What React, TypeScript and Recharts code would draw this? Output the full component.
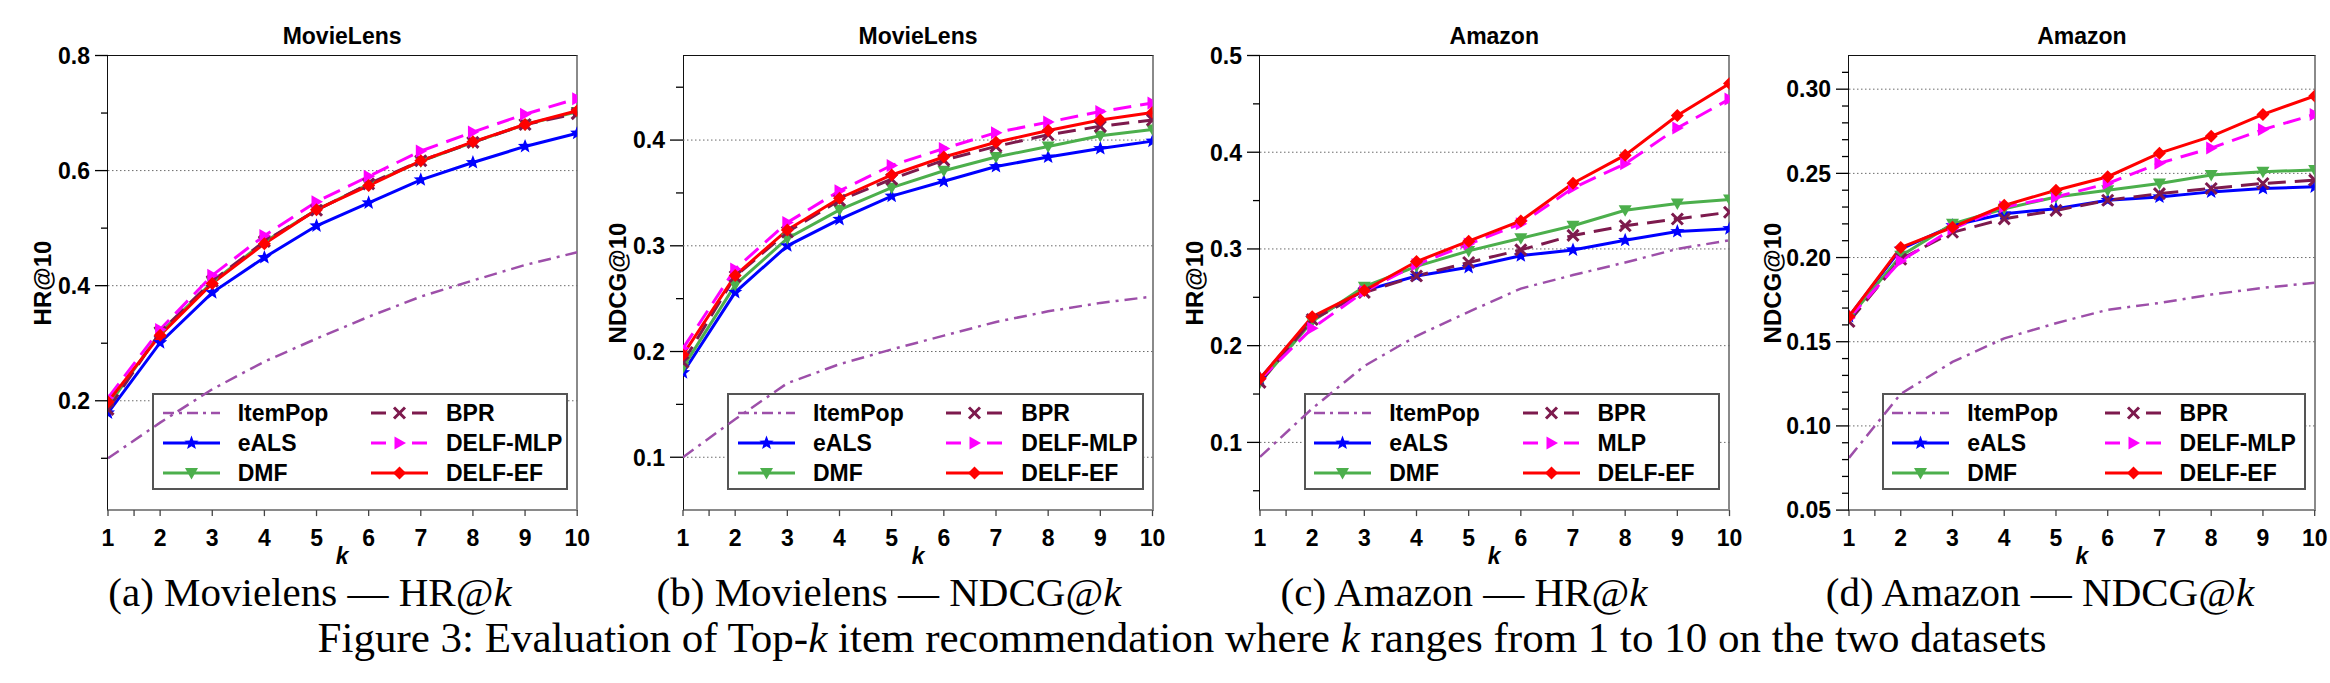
import React from "react";
import { Line, LineChart, ReferenceLine, XAxis, YAxis } from "recharts";

// ---- data ----
const kValues = [1, 2, 3, 4, 5, 6, 7, 8, 9, 10];
const xTicks = [1, 1.5, 2, 3, 4, 5, 6, 7, 8, 9, 10];

// (a) MovieLens HR@k
const mlHrItemPop = [0.1, 0.162, 0.22, 0.268, 0.308, 0.346, 0.381, 0.409, 0.436, 0.458];
const mlHrEals = [0.179, 0.301, 0.388, 0.449, 0.504, 0.544, 0.584, 0.614, 0.642, 0.665];
const mlHrDmf = [0.191, 0.318, 0.406, 0.476, 0.532, 0.576, 0.616, 0.649, 0.68, 0.702];
const mlHrBpr = [0.185, 0.319, 0.408, 0.477, 0.531, 0.577, 0.617, 0.649, 0.68, 0.699];
const mlHrMlp = [0.205, 0.324, 0.418, 0.487, 0.546, 0.59, 0.634, 0.667, 0.698, 0.725];
const mlHrEf = [0.198, 0.314, 0.404, 0.473, 0.532, 0.574, 0.617, 0.65, 0.68, 0.704];

// (b) MovieLens NDCG@k
const mlNdItemPop = [0.1, 0.136, 0.17, 0.188, 0.202, 0.215, 0.228, 0.238, 0.246, 0.252];
const mlNdEals = [0.18, 0.256, 0.3, 0.325, 0.347, 0.361, 0.375, 0.384, 0.392, 0.399];
const mlNdDmf = [0.185, 0.263, 0.307, 0.334, 0.355, 0.371, 0.384, 0.394, 0.404, 0.41];
const mlNdBpr = [0.19, 0.271, 0.313, 0.343, 0.363, 0.381, 0.394, 0.405, 0.413, 0.419];
const mlNdMlp = [0.203, 0.278, 0.322, 0.352, 0.376, 0.392, 0.407, 0.417, 0.427, 0.435];
const mlNdEf = [0.197, 0.272, 0.315, 0.345, 0.367, 0.384, 0.398, 0.409, 0.419, 0.426];

// (c) Amazon HR@k
const azHrItemPop = [0.085, 0.135, 0.179, 0.21, 0.235, 0.259, 0.273, 0.286, 0.3, 0.309];
const azHrEals = [0.166, 0.228, 0.257, 0.272, 0.281, 0.293, 0.299, 0.309, 0.318, 0.321];
const azHrDmf = [0.162, 0.225, 0.261, 0.282, 0.298, 0.311, 0.324, 0.34, 0.347, 0.351];
const azHrBpr = [0.162, 0.227, 0.255, 0.272, 0.286, 0.299, 0.314, 0.324, 0.331, 0.338];
const azHrMlp = [0.165, 0.218, 0.256, 0.284, 0.305, 0.326, 0.363, 0.388, 0.425, 0.455];
const azHrEf = [0.166, 0.23, 0.257, 0.287, 0.308, 0.329, 0.368, 0.397, 0.438, 0.471];

// (d) Amazon NDCG@k
const azNdItemPop = [0.081, 0.119, 0.138, 0.152, 0.161, 0.169, 0.173, 0.178, 0.182, 0.185];
const azNdEals = [0.165, 0.205, 0.219, 0.226, 0.229, 0.234, 0.236, 0.239, 0.241, 0.242];
const azNdDmf = [0.164, 0.201, 0.22, 0.229, 0.236, 0.24, 0.244, 0.249, 0.251, 0.252];
const azNdBpr = [0.162, 0.199, 0.215, 0.223, 0.228, 0.234, 0.238, 0.241, 0.244, 0.246];
const azNdMlp = [0.164, 0.198, 0.217, 0.23, 0.236, 0.244, 0.256, 0.265, 0.276, 0.285];
const azNdEf = [0.165, 0.206, 0.218, 0.231, 0.24, 0.248, 0.262, 0.272, 0.285, 0.296];

// ---- styling ----
const SANS = "'Liberation Sans', Arial, Helvetica, sans-serif";
const SERIF = "'Liberation Serif', 'Times New Roman', serif";

type Shape = "none" | "star" | "triDown" | "cross" | "triRight" | "diamond";

const seriesDefs: { key: string; name: string; color: string; dash?: string; legendDash?: string; width: number; shape: Shape }[] = [
  { key: "itemPop", name: "ItemPop", color: "#9d4fa9", dash: "13 6 3 6", legendDash: "11 5 3 5", width: 2.5, shape: "none" },
  { key: "eals", name: "eALS", color: "#0000ff", width: 3, shape: "star" },
  { key: "dmf", name: "DMF", color: "#4caf4c", width: 3, shape: "triDown" },
  { key: "bpr", name: "BPR", color: "#7d1a4d", dash: "18 9", legendDash: "15 26", width: 3, shape: "cross" },
  { key: "mlp", name: "DELF-MLP", color: "#ff00ff", dash: "18 9", legendDash: "15 26", width: 3, shape: "triRight" },
  { key: "ef", name: "DELF-EF", color: "#ff0000", width: 3, shape: "diamond" },
];

const PLOT_TOP = 55.5;
const PLOT_BOTTOM = 510.1;
const CHART_H = 570;
const Y_AXIS_W = 100;
const RIGHT_PAD = 20;

const panels = [
  {
    title: "MovieLens", yLabel: "HR@10", plotLeft: 107.5, plotWidth: 469.2,
    domain: [0.01, 0.8], major: [0.2, 0.4, 0.6, 0.8], minor: [0.1, 0.3, 0.5, 0.7], grid: [0.2, 0.4, 0.6],
    digits: 1, yLabelGap: 64.5, legendLeft: 44.5, legendWidth: 415.5, col2: 217, mlpName: "DELF-MLP",
    values: [mlHrItemPop, mlHrEals, mlHrDmf, mlHrBpr, mlHrMlp, mlHrEf],
  },
  {
    title: "MovieLens", yLabel: "NDCG@10", plotLeft: 683.3, plotWidth: 469.5,
    domain: [0.05, 0.48], major: [0.1, 0.2, 0.3, 0.4], minor: [0.15, 0.25, 0.35, 0.45], grid: [0.1, 0.2, 0.3, 0.4],
    digits: 1, yLabelGap: 65, legendLeft: 44, legendWidth: 416.4, col2: 217, mlpName: "DELF-MLP",
    values: [mlNdItemPop, mlNdEals, mlNdDmf, mlNdBpr, mlNdMlp, mlNdEf],
  },
  {
    title: "Amazon", yLabel: "HR@10", plotLeft: 1259.5, plotWidth: 469.5,
    domain: [0.03, 0.5], major: [0.1, 0.2, 0.3, 0.4, 0.5], minor: [0.05, 0.15, 0.25, 0.35, 0.45], grid: [0.1, 0.2, 0.3, 0.4],
    digits: 1, yLabelGap: 64.5, legendLeft: 44, legendWidth: 416.3, col2: 217, mlpName: "MLP",
    values: [azHrItemPop, azHrEals, azHrDmf, azHrBpr, azHrMlp, azHrEf],
  },
  {
    title: "Amazon", yLabel: "NDCG@10", plotLeft: 1849.1, plotWidth: 465.7,
    domain: [0.05, 0.32], major: [0.05, 0.1, 0.15, 0.2, 0.25, 0.3],
    minor: [0.06, 0.07, 0.08, 0.09, 0.11, 0.12, 0.13, 0.14, 0.16, 0.17, 0.18, 0.19, 0.21, 0.22, 0.23, 0.24, 0.26, 0.27, 0.28, 0.29, 0.31],
    grid: [0.1, 0.15, 0.2, 0.25, 0.3],
    digits: 2, yLabelGap: 76.5, legendLeft: 32.5, legendWidth: 424, col2: 221, mlpName: "DELF-MLP",
    values: [azNdItemPop, azNdEals, azNdDmf, azNdBpr, azNdMlp, azNdEf],
  },
];

const subCaptions = [
  { label: "(a) Movielens — HR@", center: 310 },
  { label: "(b) Movielens — NDCG@", center: 889 },
  { label: "(c) Amazon — HR@", center: 1464 },
  { label: "(d) Amazon — NDCG@", center: 2040 },
];

function Marker({ shape, cx, cy, color }: { shape: Shape; cx?: number; cy?: number; color: string }) {
  if (cx == null || cy == null || shape === "none") return null;
  if (shape === "star") {
    const pts: string[] = [];
    for (let i = 0; i < 10; i++) {
      const r = i % 2 === 0 ? 7.5 : 3.2;
      const a = -Math.PI / 2 + (i * Math.PI) / 5;
      pts.push(`${cx + r * Math.cos(a)},${cy + r * Math.sin(a)}`);
    }
    return <polygon points={pts.join(" ")} fill={color} />;
  }
  if (shape === "triDown") return <polygon points={`${cx - 6.5},${cy - 5} ${cx + 6.5},${cy - 5} ${cx},${cy + 6.5}`} fill={color} />;
  if (shape === "triRight") return <polygon points={`${cx - 5},${cy - 6.5} ${cx - 5},${cy + 6.5} ${cx + 6.5},${cy}`} fill={color} />;
  if (shape === "diamond") return <polygon points={`${cx},${cy - 6.5} ${cx + 6.5},${cy} ${cx},${cy + 6.5} ${cx - 6.5},${cy}`} fill={color} />;
  return (
    <g stroke={color} strokeWidth={3}>
      <line x1={cx - 5.5} y1={cy - 5.5} x2={cx + 5.5} y2={cy + 5.5} />
      <line x1={cx - 5.5} y1={cy + 5.5} x2={cx + 5.5} y2={cy - 5.5} />
    </g>
  );
}

function Panel({ p }: { p: (typeof panels)[number] }) {
  const data = kValues.map((k, i) => {
    const row: Record<string, number> = { k };
    seriesDefs.forEach((s, j) => (row[s.key] = p.values[j][i]));
    return row;
  });
  const chartLeft = p.plotLeft - Y_AXIS_W;
  const chartW = Y_AXIS_W + p.plotWidth + RIGHT_PAD;
  const xAxisH = CHART_H - 10 - PLOT_BOTTOM;
  const plotH = PLOT_BOTTOM - PLOT_TOP;
  const centerX = p.plotLeft + p.plotWidth / 2;
  const isMajor = (v: number) => p.major.some((m) => Math.abs(m - v) < 1e-6);

  const yTick = (props: any) => {
    const { x, y, payload } = props;
    const major = isMajor(payload.value);
    return (
      <g>
        <line x1={x - (major ? 13 : 7)} x2={x} y1={y} y2={y} stroke="#000" strokeWidth={1.3} />
        {major && (
          <text x={x - 18} y={y} dy="0.36em" textAnchor="end" fontFamily={SANS} fontWeight="bold" fontSize={23} fill="#000">
            {payload.value.toFixed(p.digits)}
          </text>
        )}
      </g>
    );
  };

  const xTick = (props: any) => {
    const { x, y, payload } = props;
    const whole = Number.isInteger(payload.value);
    return (
      <g>
        <line x1={x} x2={x} y1={y} y2={y + 6} stroke="#444" strokeWidth={1.3} />
        {whole && (
          <text x={x} y={y + 27.5} dy="0.36em" textAnchor="middle" fontFamily={SANS} fontWeight="bold" fontSize={23} fill="#000">
            {payload.value}
          </text>
        )}
      </g>
    );
  };

  const legendRows = [18.8, 48.6, 78.1];

  return (
    <>
      {/* title */}
      <div style={{ position: "absolute", left: p.plotLeft, width: p.plotWidth, top: 24.4, lineHeight: "24px", textAlign: "center", fontFamily: SANS, fontWeight: "bold", fontSize: 23 }}>
        {p.title}
      </div>
      {/* y label */}
      <div
        style={{
          position: "absolute", left: p.plotLeft - p.yLabelGap - 100, top: PLOT_TOP + plotH / 2 - 15, width: 200, height: 30,
          lineHeight: "30px", textAlign: "center", transform: "rotate(-90deg)", fontFamily: SANS, fontWeight: "bold", fontSize: 24,
        }}
      >
        {p.yLabel}
      </div>
      {/* x label */}
      <div style={{ position: "absolute", left: centerX - 20, width: 40, top: 543.5, height: 24, lineHeight: "24px", textAlign: "center", fontFamily: SANS, fontWeight: "bold", fontStyle: "italic", fontSize: 23 }}>
        k
      </div>
      {/* frame */}
      <div
        style={{
          position: "absolute", left: p.plotLeft - 0.75, top: PLOT_TOP - 0.75, width: p.plotWidth + 1.75, height: plotH + 1.75, boxSizing: "border-box",
          borderLeft: "1.5px solid #111", borderTop: "1.5px solid #111", borderRight: "2px solid #8a8a8a", borderBottom: "2px solid #8a8a8a",
        }}
      />
      {/* axes + grid layer */}
      <div style={{ position: "absolute", left: chartLeft, top: 0 }}>
        <LineChart width={chartW} height={CHART_H} data={data} margin={{ top: PLOT_TOP, right: RIGHT_PAD, left: 0, bottom: 10 }}>
          <XAxis type="number" dataKey="k" domain={[1, 10]} ticks={xTicks} interval={0} allowDataOverflow
            axisLine={false} tickLine={false} tickSize={0} tickMargin={0} height={xAxisH} tick={xTick} />
          <YAxis type="number" domain={p.domain} ticks={[...p.minor, ...p.major].sort((a, b) => a - b)} interval={0} allowDataOverflow
            axisLine={false} tickLine={false} tickSize={0} tickMargin={0} width={Y_AXIS_W} tick={yTick} />
          {p.grid.map((g) => (
            <ReferenceLine key={g} y={g} stroke="#6a6a6a" strokeWidth={1} strokeDasharray="1.5 2.5" />
          ))}
        </LineChart>
      </div>
      {/* legend box */}
      <div
        style={{
          position: "absolute", left: p.plotLeft + p.legendLeft, top: 392.6, width: p.legendWidth, height: 97.2,
          boxSizing: "border-box", border: "2px solid #555", background: "#fff",
        }}
      >
        {seriesDefs.map((s, i) => {
          const col = Math.floor(i / 3);
          const rowY = legendRows[i % 3];
          const sx = col === 0 ? 8.7 : p.col2;
          const name = s.key === "mlp" ? p.mlpName : s.name;
          return (
            <React.Fragment key={s.key}>
              <svg style={{ position: "absolute", left: sx, top: rowY - 12 }} width={57} height={24}>
                <line x1={0} x2={57} y1={12} y2={12} stroke={s.color} strokeWidth={s.width} strokeDasharray={s.legendDash} />
                <Marker shape={s.shape} cx={28.5} cy={12} color={s.color} />
              </svg>
              <div style={{ position: "absolute", left: sx + 75, top: rowY - 13, height: 26, lineHeight: "26px", fontFamily: SANS, fontWeight: "bold", fontSize: 23, whiteSpace: "nowrap" }}>
                {name}
              </div>
            </React.Fragment>
          );
        })}
      </div>
      {/* series layer */}
      <div style={{ position: "absolute", left: chartLeft, top: 0 }}>
        <LineChart width={chartW} height={CHART_H} data={data} margin={{ top: PLOT_TOP, right: RIGHT_PAD, left: Y_AXIS_W, bottom: CHART_H - PLOT_BOTTOM }}>
          <XAxis type="number" dataKey="k" domain={[1, 10]} hide allowDataOverflow />
          <YAxis type="number" domain={p.domain} hide allowDataOverflow />
          {seriesDefs.map((s) => (
            <Line
              key={s.key}
              dataKey={s.key}
              type="linear"
              stroke={s.color}
              strokeWidth={s.width}
              strokeDasharray={s.dash}
              isAnimationActive={false}
              dot={s.shape === "none" ? false : (d: any) => <Marker key={`${s.key}-${d.index}`} shape={s.shape} cx={d.cx} cy={d.cy} color={s.color} />}
              activeDot={false}
            />
          ))}
        </LineChart>
      </div>
    </>
  );
}

export default function App() {
  return (
    <div style={{ position: "absolute", left: 0, top: 0, width: 2330, height: 683, background: "#fff", overflow: "hidden", color: "#000" }}>
      {panels.map((p, i) => (
        <Panel key={i} p={p} />
      ))}
      {subCaptions.map((c) => (
        <div key={c.label} style={{ position: "absolute", left: c.center - 300, width: 600, top: 571.5, height: 40, lineHeight: "40px", textAlign: "center", fontFamily: SERIF, fontSize: 41, whiteSpace: "nowrap" }}>
          {c.label}
          <i>k</i>
        </div>
      ))}
      <div style={{ position: "absolute", left: 17, width: 2330, top: 617.2, height: 42, lineHeight: "42px", textAlign: "center", fontFamily: SERIF, fontSize: 43, whiteSpace: "nowrap" }}>
        Figure 3: Evaluation of Top-<i>k</i> item recommendation where <i>k</i> ranges from 1 to 10 on the two datasets
      </div>
    </div>
  );
}
